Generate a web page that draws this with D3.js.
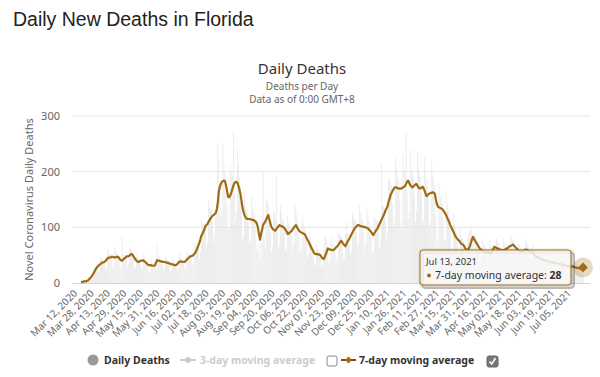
<!DOCTYPE html>
<html>
<head>
<meta charset="utf-8">
<script src="https://cdn.jsdelivr.net/npm/d3@7"></script>
<style>
  body { margin: 0; background: #fff; }
  svg { display: block; }
</style>
</head>
<body>
<div id="chart"></div>
<script>
// first day of the series, one value per day after it
const startDate = "Mar 12, 2020";

// daily deaths (bars)
const dailyDeaths = [
  2,2,3,2,3,4,5,6,9,10,
  7,10,23,24,28,30,26,19,23,46,
  43,43,41,34,24,29,61,54,53,51,
  42,28,32,64,55,54,52,40,26,29,
  83,50,51,49,42,29,34,66,61,60,
  56,43,27,29,52,46,44,43,36,24,
  28,55,46,43,38,30,19,22,44,38,
  36,34,29,24,70,52,47,45,42,33,
  22,27,48,45,41,40,31,20,24,45,
  40,37,35,30,21,26,53,47,44,42,
  34,23,29,57,53,53,52,43,29,35,
  70,65,67,68,60,43,55,115,106,106,
  107,92,62,74,148,136,133,131,109,73,
  88,133,140,253,220,170,120,130,250,215,
  195,180,140,95,100,210,200,195,273,160,
  110,130,240,215,190,175,130,75,85,165,
  140,135,125,105,68,78,155,135,130,122,
  98,62,58,70,40,110,120,200,80,65,
  150,145,140,120,90,55,65,130,125,115,
  195,90,60,70,140,125,115,112,92,58,
  62,120,110,105,100,85,58,70,140,130,
  118,108,85,55,62,122,108,100,95,75,
  45,50,92,80,72,66,48,30,35,70,
  62,60,56,45,30,33,60,85,80,78,
  55,36,40,82,72,70,68,56,40,46,
  95,88,85,84,62,42,45,88,110,90,
  88,70,50,60,125,118,115,112,92,62,
  72,140,125,118,112,92,60,70,135,120,
  110,104,82,52,58,120,115,112,105,88,
  62,75,215,140,138,135,112,80,92,190,
  185,180,175,140,100,110,225,205,195,185,
  150,100,110,230,205,200,272,160,115,125,
  240,210,200,190,160,110,130,235,205,195,
  190,160,105,115,225,195,175,185,150,100,
  110,220,195,185,175,120,70,80,180,160,
  155,145,115,75,80,165,140,130,120,95,
  58,62,125,105,98,90,72,45,50,100,
  82,80,75,58,38,42,80,88,95,105,
  95,70,48,90,82,78,75,60,38,42,
  78,68,66,62,50,32,36,75,66,64,
  70,58,40,45,82,75,72,68,52,36,
  40,80,72,70,68,56,42,46,88,80,
  78,74,55,38,40,75,68,65,62,50,
  35,40,80,72,68,65,52,34,38,70,
  60,56,52,40,28,30,58,52,50,47,
  38,25,28,55,48,45,43,34,22,26,
  50,44,42,40,32,20,24,46,40,38,
  36,28,18,21,41,36,34,34,27,17,
  20,38,33,31,30,24,15,19,35
];

// 7-day moving average (line)
const movingAvg7 = [
  2,2,2,3,3,3,4,5,7,9,
  11,14,17,20,24,27,29,31,33,34,
  36,37,37,38,40,42,45,45,46,46,
  47,47,46,46,46,47,47,45,42,41,
  40,42,44,45,47,48,48,49,51,52,
  51,48,45,42,40,38,38,39,40,40,
  41,40,38,37,35,33,32,32,32,31,
  31,31,32,37,41,40,40,39,39,38,
  38,38,37,37,36,36,35,34,34,33,
  33,32,32,33,35,37,39,39,38,38,
  38,38,40,42,44,46,47,48,49,50,
  52,54,58,62,67,72,78,85,88,92,
  97,102,104,106,110,113,116,119,121,122,
  124,126,132,145,165,173,178,182,183,184,
  183,175,165,155,154,157,162,168,174,179,
  181,182,180,175,168,160,148,135,128,122,
  118,116,115,115,115,114,114,113,113,111,
  110,106,100,88,78,88,95,104,107,110,
  114,118,122,115,108,101,98,96,95,94,
  97,100,102,104,103,102,101,100,98,95,
  92,88,89,91,92,94,97,100,102,104,
  100,97,94,92,91,90,89,88,86,82,
  78,75,71,67,63,60,56,53,52,52,
  52,51,51,49,46,44,43,47,52,57,
  62,61,60,60,59,59,60,62,64,66,
  68,71,74,76,73,70,68,66,70,74,
  77,80,84,88,91,95,98,100,102,104,
  104,103,102,102,101,101,100,100,99,98,
  96,94,92,89,86,89,92,95,97,101,
  105,109,113,117,121,125,130,134,138,146,
  152,158,162,166,169,172,172,171,170,170,
  169,170,170,172,173,174,178,182,184,180,
  176,174,172,173,175,177,178,175,172,170,
  170,171,173,170,166,160,156,158,160,161,
  162,162,163,162,160,150,142,137,136,135,
  134,133,131,128,125,122,117,113,109,104,
  100,96,92,88,84,81,79,77,75,72,
  70,69,68,64,61,59,60,62,66,72,
  78,83,80,76,73,70,67,64,61,60,
  58,57,57,56,56,55,54,54,53,55,
  58,62,65,64,63,62,61,60,60,59,
  59,59,60,61,62,63,65,66,67,68,
  69,67,65,63,61,59,58,57,57,57,
  58,59,60,60,59,58,57,57,56,54,
  52,50,48,47,46,45,44,43,43,42,
  41,41,40,40,39,38,38,37,37,37,
  36,36,35,35,35,34,34,33,33,32,
  32,31,31,30,30,29,29,30,30,29,
  28,28,27,27,27,26,26,27,28
];

// x-axis labels (every 16 days)
const tickLabels = [
  "Mar 12, 2020", "Mar 28, 2020", "Apr 13, 2020", "Apr 29, 2020", "May 15, 2020",
  "May 31, 2020", "Jun 16, 2020", "Jul 02, 2020", "Jul 18, 2020", "Aug 03, 2020",
  "Aug 19, 2020", "Sep 04, 2020", "Sep 20, 2020", "Oct 06, 2020", "Oct 22, 2020",
  "Nov 07, 2020", "Nov 23, 2020", "Dec 09, 2020", "Dec 25, 2020", "Jan 10, 2021",
  "Jan 26, 2021", "Feb 11, 2021", "Feb 27, 2021", "Mar 15, 2021", "Mar 31, 2021",
  "Apr 16, 2021", "May 02, 2021", "May 18, 2021", "Jun 03, 2021", "Jun 19, 2021",
  "Jul 05, 2021"
];
const yTicks = [0, 100, 200, 300];

const width = 600;
const height = 377;
const lineColor = "#9f6b14";
const font = "'Noto Sans', 'DejaVu Sans', sans-serif";

const parseDate = d3.utcParse("%b %d, %Y");
const fmtDate = d3.utcFormat("%b %d, %Y");
const day0 = parseDate(startDate);
const dates = movingAvg7.map((v, i) => d3.utcDay.offset(day0, i));

const svg = d3.select("#chart")
  .append("svg")
  .attr("width", width)
  .attr("height", height)
  .style("font-family", font);

// page heading
svg.append("text")
  .attr("x", 13)
  .attr("y", 26)
  .style("font-family", "'Liberation Sans', Arial, sans-serif")
  .style("font-size", "19.5px")
  .style("fill", "#222")
  .text("Daily New Deaths in Florida");

// chart title + subtitle
svg.append("text")
  .attr("x", 302).attr("y", 74)
  .attr("text-anchor", "middle")
  .style("font-size", "15px")
  .style("fill", "#333")
  .text("Daily Deaths");
svg.append("text")
  .attr("x", 302).attr("y", 90)
  .attr("text-anchor", "middle")
  .style("font-size", "10px")
  .style("fill", "#666")
  .text("Deaths per Day");
svg.append("text")
  .attr("x", 302).attr("y", 103)
  .attr("text-anchor", "middle")
  .style("font-size", "10px")
  .style("fill", "#666")
  .text("Data as of 0:00 GMT+8");

const plotLeft = 72, plotRight = 590;

const x = d3.scaleUtc()
  .domain([dates[0], dates[dates.length - 1]])
  .range([81, 583]);

const y = d3.scaleLinear()
  .domain([0, 300])
  .range([283, 116]);

// grid lines
svg.append("g")
  .selectAll("line")
  .data(yTicks.filter(d => d > 0))
  .enter()
  .append("line")
  .attr("x1", plotLeft).attr("x2", plotRight)
  .attr("y1", d => y(d)).attr("y2", d => y(d))
  .attr("stroke", "#e6e6e6")
  .attr("stroke-width", 1);

// y axis labels
const yAxis = svg.append("g")
  .attr("transform", `translate(${plotLeft - 12},0)`)
  .call(d3.axisLeft(y).tickValues(yTicks).tickSize(0).tickPadding(0));
yAxis.select(".domain").remove();
yAxis.selectAll("text")
  .style("font-family", font)
  .style("font-size", "11px")
  .style("fill", "#666");

svg.append("text")
  .attr("transform", `translate(33,${(y(0) + y(300)) / 2}) rotate(-90)`)
  .attr("text-anchor", "middle")
  .style("font-size", "11px")
  .style("fill", "#666")
  .text("Novel Coronavirus Daily Deaths");

// bars
svg.append("g")
  .selectAll("rect")
  .data(dailyDeaths)
  .enter()
  .append("rect")
  .attr("x", (d, i) => x(dates[i]) - 0.3)
  .attr("width", 0.6)
  .attr("y", d => y(d))
  .attr("height", d => y(0) - y(d))
  .attr("fill", "#e2e2e2");

// x axis line
svg.append("line")
  .attr("x1", plotLeft).attr("x2", plotRight)
  .attr("y1", y(0) + 0.5).attr("y2", y(0) + 0.5)
  .attr("stroke", "#ccd6eb");

// x labels
svg.append("g")
  .selectAll("text")
  .data(tickLabels)
  .enter()
  .append("text")
  .attr("transform", d => `translate(${x(parseDate(d)) - 3},${y(0) + 11}) rotate(-45)`)
  .attr("text-anchor", "end")
  .style("font-size", "10px")
  .style("fill", "#666")
  .text(d => d);

// 7-day average line
const line = d3.line()
  .x((d, i) => x(dates[i]))
  .y(d => y(d));

svg.append("path")
  .datum(movingAvg7)
  .attr("d", line)
  .attr("fill", "none")
  .attr("stroke", lineColor)
  .attr("stroke-width", 2.2)
  .attr("stroke-linejoin", "round");

// hovered point: halo + diamond
const lastI = movingAvg7.length - 1;
const px = x(dates[lastI]), py = y(movingAvg7[lastI]);
svg.append("circle")
  .attr("cx", px).attr("cy", py).attr("r", 10)
  .attr("fill", lineColor).attr("fill-opacity", 0.25);
svg.append("path")
  .attr("d", d3.symbol(d3.symbolDiamond2, 60)())
  .attr("transform", `translate(${px},${py})`)
  .attr("fill", lineColor);

// tooltip
const tip = svg.append("g").attr("transform", "translate(420,250)");
[3, 2, 1].forEach(o => {
  tip.append("rect")
    .attr("x", o).attr("y", o).attr("width", 151).attr("height", 35).attr("rx", 3)
    .attr("fill", "none").attr("stroke", "#000").attr("stroke-opacity", 0.05 * o)
    .attr("stroke-width", 2 * (4 - o));
});
tip.append("rect")
  .attr("width", 151).attr("height", 35).attr("rx", 3)
  .attr("fill", "rgba(247,247,247,0.85)")
  .attr("stroke", lineColor).attr("stroke-width", 1);
tip.append("text")
  .attr("x", 6).attr("y", 15)
  .style("font-size", "9.5px").style("fill", "#333")
  .text(fmtDate(dates[lastI]));
tip.append("circle")
  .attr("cx", 9).attr("cy", 25.5).attr("r", 2)
  .attr("fill", lineColor);
const tipLine = tip.append("text")
  .attr("x", 15).attr("y", 29)
  .style("font-size", "10.5px").style("fill", "#333");
tipLine.append("tspan").text("7-day moving average: ");
tipLine.append("tspan").style("font-weight", "bold").text(movingAvg7[lastI]);

// legend
const lg = svg.append("g").style("font-size", "10.5px").style("font-weight", "bold");
const ly = 360;
lg.append("circle").attr("cx", 93).attr("cy", ly).attr("r", 5.5).attr("fill", "#999");
lg.append("text").attr("x", 104).attr("y", ly + 4).style("fill", "#333").text("Daily Deaths");

lg.append("line").attr("x1", 180).attr("x2", 196).attr("y1", ly).attr("y2", ly)
  .attr("stroke", "#ccc").attr("stroke-width", 2);
lg.append("circle").attr("cx", 188).attr("cy", ly).attr("r", 3).attr("fill", "#ccc");
lg.append("text").attr("x", 200).attr("y", ly + 4).style("fill", "#ccc").text("3-day moving average");
lg.append("rect").attr("x", 327).attr("y", ly - 4).attr("width", 10).attr("height", 10).attr("rx", 2)
  .attr("fill", "#fff").attr("stroke", "#888");

lg.append("line").attr("x1", 341).attr("x2", 356).attr("y1", ly).attr("y2", ly)
  .attr("stroke", "#a33a12").attr("stroke-width", 2);
lg.append("path").attr("d", d3.symbol(d3.symbolDiamond2, 30)())
  .attr("transform", `translate(348.5,${ly})`).attr("fill", lineColor);
lg.append("text").attr("x", 359).attr("y", ly + 4).style("fill", "#333").text("7-day moving average");
lg.append("rect").attr("x", 487).attr("y", ly - 4).attr("width", 11).attr("height", 11).attr("rx", 2)
  .attr("fill", "#777").attr("stroke", "#666");
lg.append("path").attr("d", `M489.5,${ly + 1.5} L491.8,${ly + 4} L495.5,${ly - 2}`)
  .attr("fill", "none").attr("stroke", "#fff").attr("stroke-width", 1.6);
</script>
</body>
</html>
